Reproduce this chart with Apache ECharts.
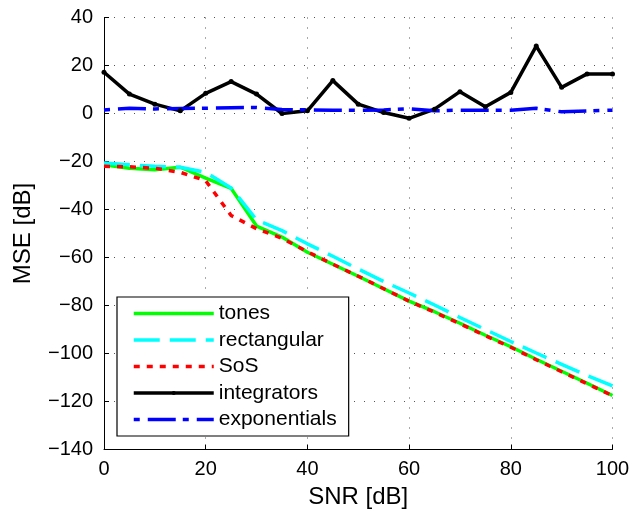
<!DOCTYPE html>
<html>
<head>
<meta charset="utf-8">
<script src="https://cdn.jsdelivr.net/npm/echarts@6/dist/echarts.min.js"></script>
<style>html,body{margin:0;padding:0;background:#fff;}#c{width:632px;height:512px;}</style>
</head>
<body>
<div id="c"></div>
<script>
const snr = [0,5,10,15,20,25,30,35,40,45,50,55,60,65,70,75,80,85,90,95,100];
const tones = [-21.4,-22.8,-23.4,-22.4,-26.9,-31.2,-46.9,-51.5,-57.8,-62.8,-67.8,-73.0,-78.2,-82.6,-87.4,-92.4,-97.2,-102.4,-107.4,-112.4,-117.5];
const rectangular = [-20.6,-21.4,-22.0,-22.4,-24.5,-31.0,-44.3,-48.8,-54.3,-59.5,-64.8,-70.0,-74.8,-79.8,-85.0,-90.0,-95.0,-99.8,-104.5,-109.2,-113.5];
const sos = [-22.0,-22.2,-22.8,-24.5,-28.0,-42.5,-48.0,-52.0,-57.6,-62.8,-67.8,-73.0,-78.2,-82.8,-87.6,-92.6,-97.4,-102.6,-107.6,-112.6,-117.6];
const integrators = [17.2,8.1,3.9,1.1,8.4,13.3,8.1,0.0,1.1,13.7,3.9,0.4,-2.0,1.8,9.1,2.8,8.8,28.1,10.9,16.5,16.5];
const exponentials = [1.5,2.2,1.9,2.1,2.2,2.4,2.5,1.7,1.5,1.4,1.3,1.5,2.0,1.1,1.4,1.4,1.4,2.2,0.7,1.1,1.4];
const seriesNames = ['tones','rectangular','SoS','integrators','exponentials'];

const FONT = "'Liberation Sans', Arial, Helvetica, sans-serif";
const pair = arr => snr.map((x, i) => [x, arr[i]]);
const minus = v => String(v).replace('-', '\u2212');

const chart = echarts.init(document.getElementById('c'), null, {renderer: 'canvas'});
const gridLine = {show: true, lineStyle: {color: '#555', width: 1, type: [1, 9]}};
const LW = 3.5;
chart.setOption({
  animation: false,
  backgroundColor: '#fff',
  grid: {left: 104, right: 19.5, top: 17.5, bottom: 62.5, containLabel: false, outerBoundsMode: 'none'},
  xAxis: {
    type: 'value', min: 0, max: 100, interval: 20,
    name: 'SNR [dB]', nameLocation: 'middle', nameGap: 36,
    nameTextStyle: {fontFamily: FONT, fontSize: 24, color: '#000'},
    axisLine: {show: true, onZero: false, lineStyle: {color: '#000', width: 1}},
    axisTick: {show: true, inside: true, length: 5, lineStyle: {color: '#000'}},
    axisLabel: {fontFamily: FONT, fontSize: 20, color: '#000', margin: 10, formatter: minus},
    splitLine: gridLine
  },
  yAxis: {
    type: 'value', min: -140, max: 40, interval: 20,
    name: 'MSE [dB]', nameLocation: 'middle', nameGap: 69, nameRotate: 90,
    nameTextStyle: {fontFamily: FONT, fontSize: 24, color: '#000'},
    axisLine: {show: true, onZero: false, lineStyle: {color: '#000', width: 1}},
    axisTick: {show: true, inside: true, length: 5, lineStyle: {color: '#000'}},
    axisLabel: {fontFamily: FONT, fontSize: 20, color: '#000', margin: 11, formatter: minus},
    splitLine: gridLine
  },
  legend: {
    orient: 'vertical', left: 117, top: 297,
    data: seriesNames.map(n => n === 'integrators' ? {name: n} : {name: n, itemStyle: {opacity: 0}}),
    itemWidth: 80, itemHeight: 5, itemGap: 5.5,
    padding: [6, 12, 6, 15],
    borderColor: '#000', borderWidth: 1.2, backgroundColor: '#fff',
    lineStyle: {width: 'inherit'},
    textStyle: {fontFamily: FONT, fontSize: 21, color: '#000'}
  },
  series: [
    {name: seriesNames[0], type: 'line', data: pair(tones), symbol: 'none',
     lineStyle: {color: '#00ff00', width: LW}, itemStyle: {color: '#00ff00'}},
    {name: seriesNames[1], type: 'line', data: pair(rectangular), symbol: 'none',
     lineStyle: {color: '#00ffff', width: LW, type: [26, 10]}, itemStyle: {color: '#00ffff'}},
    {name: seriesNames[2], type: 'line', data: pair(sos), symbol: 'none',
     lineStyle: {color: '#ff0000', width: LW, type: [6, 7]}, itemStyle: {color: '#ff0000'}},
    {name: seriesNames[3], type: 'line', data: pair(integrators), symbol: 'circle', symbolSize: 5, showSymbol: true,
     lineStyle: {color: '#000000', width: LW}, itemStyle: {color: '#000000'}},
    {name: seriesNames[4], type: 'line', data: pair(exponentials), symbol: 'none',
     lineStyle: {color: '#0000ff', width: LW, type: [6, 8, 28, 7]}, itemStyle: {color: '#0000ff'}}
  ]
});
</script>
</body>
</html>
